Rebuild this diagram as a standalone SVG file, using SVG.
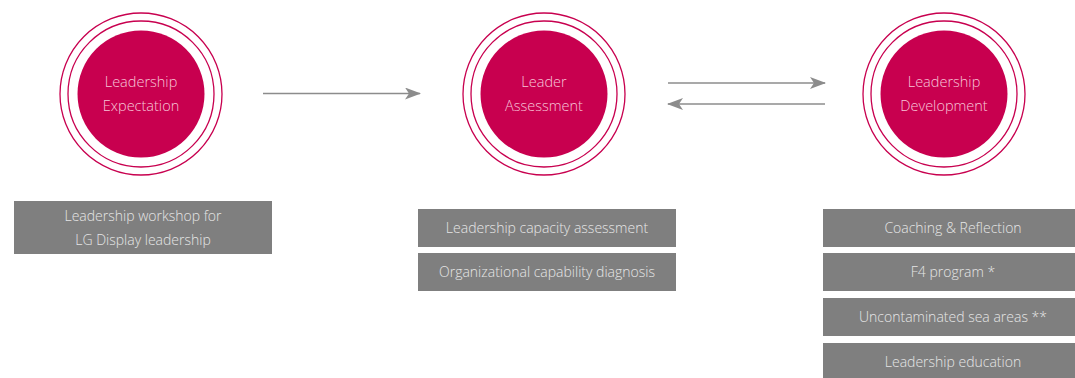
<svg xmlns="http://www.w3.org/2000/svg" width="1075" height="378" viewBox="0 0 1075 378">
<style>
.ring{fill:none;stroke:#c8004f;stroke-width:1.3}
.core{fill:#c8004f}
.ct{font-family:"Open Sans","Noto Sans",sans-serif;font-weight:300;font-size:14.5px;fill:#f7c6d8;text-anchor:middle}
.box{fill:#7f7f7f}
.bt{font-family:"Open Sans","Noto Sans",sans-serif;font-weight:300;font-size:14px;fill:#e6e6e6;text-anchor:middle}
.conn{stroke:#8c8c8c;stroke-width:1.5;fill:none}
</style>
<defs>
<marker id="ah" viewBox="0 0 16 12" refX="15" refY="6" markerWidth="16" markerHeight="12" markerUnits="userSpaceOnUse" orient="auto">
<path d="M0,0 L16,6 L0,12 L4,6 Z" fill="#8c8c8c"/>
</marker>
</defs>
<g id="node-expectation">
<circle class="ring" cx="141" cy="94" r="81"/>
<circle class="ring" cx="141" cy="94" r="73"/>
<circle class="core" cx="141" cy="94" r="63.5"/>
<text class="ct" x="141" y="87">Leadership</text>
<text class="ct" x="141" y="111">Expectation</text>
</g>
<g id="node-assessment">
<circle class="ring" cx="544" cy="94" r="81"/>
<circle class="ring" cx="544" cy="94" r="73"/>
<circle class="core" cx="544" cy="94" r="63.5"/>
<text class="ct" x="544" y="87">Leader</text>
<text class="ct" x="544" y="111">Assessment</text>
</g>
<g id="node-development">
<circle class="ring" cx="944" cy="94" r="81"/>
<circle class="ring" cx="944" cy="94" r="73"/>
<circle class="core" cx="944" cy="94" r="63.5"/>
<text class="ct" x="944" y="87">Leadership</text>
<text class="ct" x="944" y="111">Development</text>
</g>
<g id="box-workshop">
<rect class="box" x="14" y="201" width="258" height="53"/>
<text class="bt" x="143" y="221">Leadership workshop for</text>
<text class="bt" x="143" y="245">LG Display leadership</text>
</g>
<g id="box-capacity">
<rect class="box" x="418" y="209" width="258" height="38"/>
<text class="bt" x="547" y="233">Leadership capacity assessment</text>
</g>
<g id="box-diagnosis">
<rect class="box" x="418" y="253" width="258" height="38"/>
<text class="bt" x="547" y="277">Organizational capability diagnosis</text>
</g>
<g id="box-coaching">
<rect class="box" x="823" y="209" width="252" height="38"/>
<text class="bt" x="953" y="233">Coaching &amp; Reflection</text>
</g>
<g id="box-f4">
<rect class="box" x="823" y="253" width="252" height="38"/>
<text class="bt" x="953" y="277">F4 program *</text>
</g>
<g id="box-sea">
<rect class="box" x="823" y="298" width="252" height="38"/>
<text class="bt" x="953" y="322">Uncontaminated sea areas **</text>
</g>
<g id="box-education">
<rect class="box" x="823" y="343" width="252" height="35"/>
<text class="bt" x="953" y="367">Leadership education</text>
</g>
<g id="connectors">
<line class="conn" x1="263" y1="93.5" x2="420" y2="93.5" marker-end="url(#ah)"/>
<line class="conn" x1="668" y1="83" x2="825" y2="83" marker-end="url(#ah)"/>
<line class="conn" x1="825" y1="104" x2="668" y2="104" marker-end="url(#ah)"/>
</g>
</svg>
